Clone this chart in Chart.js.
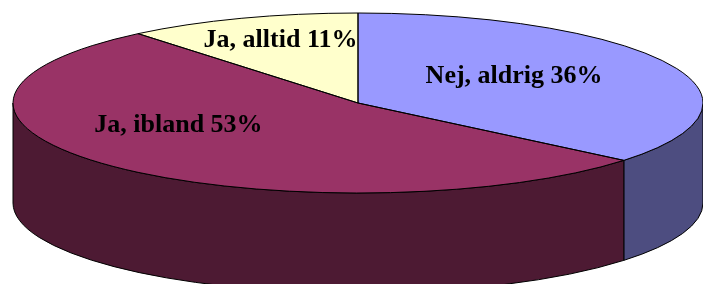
<!DOCTYPE html>
<html>
<head>
<meta charset="utf-8">
<script src="https://cdn.jsdelivr.net/npm/chart.js@4"></script>
<style>
  html, body { margin: 0; padding: 0; background: #ffffff; }
  #wrap { width: 703px; height: 284px; position: relative; }
</style>
</head>
<body>
<div id="wrap"><canvas id="c" width="703" height="284"></canvas></div>
<script>
// ---- data ----
const categories = ["Nej, aldrig", "Ja, ibland", "Ja, alltid"];
const values = [36, 53, 11];

// ---- style ----
const topColors  = ["#9999FF", "#993366", "#FFFFCC"];
const sideColors = ["#4D4D80", "#4D1A33", "#80805F"];
const depth = 100;
// label placement: radial fraction along mid-angle, vertical nudge
const labelPlace = [[0.5, -1], [0.736, -18], [0.663, 0]];

function visibleRanges(a0, a1) {
  const out = [];
  for (let k = -1; k <= 1; k++) {
    const lo = Math.max(a0, 2 * Math.PI * k), hi = Math.min(a1, 2 * Math.PI * k + Math.PI);
    if (hi > lo) out.push([lo, hi]);
  }
  return out;
}

const pie3d = {
  id: 'pie3d',
  beforeDatasetsDraw(chart) {
    const ctx = chart.ctx, area = chart.chartArea;
    const arcs = chart.getDatasetMeta(0).data;
    if (!arcs.length) return;
    const cx = arcs[0].x, cy = arcs[0].y, r = arcs[0].outerRadius;
    const rx = area.width / 2, ry = r;
    chart.$p3 = {cx, cy, rx, ry, sx: rx / r};
    // side walls
    ctx.save();
    ctx.lineWidth = 1;
    ctx.strokeStyle = '#000';
    arcs.forEach((a, i) => {
      visibleRanges(a.startAngle, a.endAngle).forEach(([s, e]) => {
        ctx.beginPath();
        ctx.ellipse(cx, cy, rx, ry, 0, s, e, false);
        ctx.ellipse(cx, cy + depth, rx, ry, 0, e, s, true);
        ctx.closePath();
        ctx.fillStyle = sideColors[i];
        ctx.fill();
        ctx.stroke();
      });
    });
    ctx.restore();
    // squash transform for the top face drawn by Chart.js
    ctx.save();
    ctx.translate(cx, cy);
    ctx.scale(rx / r, 1);
    ctx.translate(-cx, -cy);
  },
  afterDatasetsDraw(chart) {
    const ctx = chart.ctx;
    ctx.restore();
    const p = chart.$p3;
    if (!p) return;
    const arcs = chart.getDatasetMeta(0).data;
    ctx.save();
    ctx.lineWidth = 1;
    ctx.strokeStyle = '#000';
    arcs.forEach((a) => {
      ctx.beginPath();
      ctx.moveTo(p.cx, p.cy);
      ctx.ellipse(p.cx, p.cy, p.rx, p.ry, 0, a.startAngle, a.endAngle, false);
      ctx.closePath();
      ctx.stroke();
    });
    // labels
    ctx.fillStyle = '#000';
    ctx.font = 'bold 26px "Liberation Serif", "Times New Roman", serif';
    ctx.textAlign = 'center';
    ctx.textBaseline = 'alphabetic';
    arcs.forEach((a, i) => {
      const mid = (a.startAngle + a.endAngle) / 2;
      const [f, dy] = labelPlace[i];
      const x = p.cx + p.rx * f * Math.cos(mid);
      const y = p.cy + p.ry * f * Math.sin(mid) + dy;
      ctx.fillText(categories[i] + ' ' + values[i] + '%', x, y);
    });
    ctx.restore();
  }
};

new Chart(document.getElementById('c'), {
  type: 'pie',
  data: {
    labels: categories,
    datasets: [{
      data: values,
      backgroundColor: topColors,
      borderWidth: 0,
      clip: false
    }]
  },
  options: {
    responsive: false,
    devicePixelRatio: 1,
    animation: false,
    rotation: 0,
    layout: { padding: { left: 13, right: 0, top: 13, bottom: 91 } },
    plugins: { legend: { display: false }, tooltip: { enabled: false } },
    events: []
  },
  plugins: [pie3d]
});
</script>
</body>
</html>
